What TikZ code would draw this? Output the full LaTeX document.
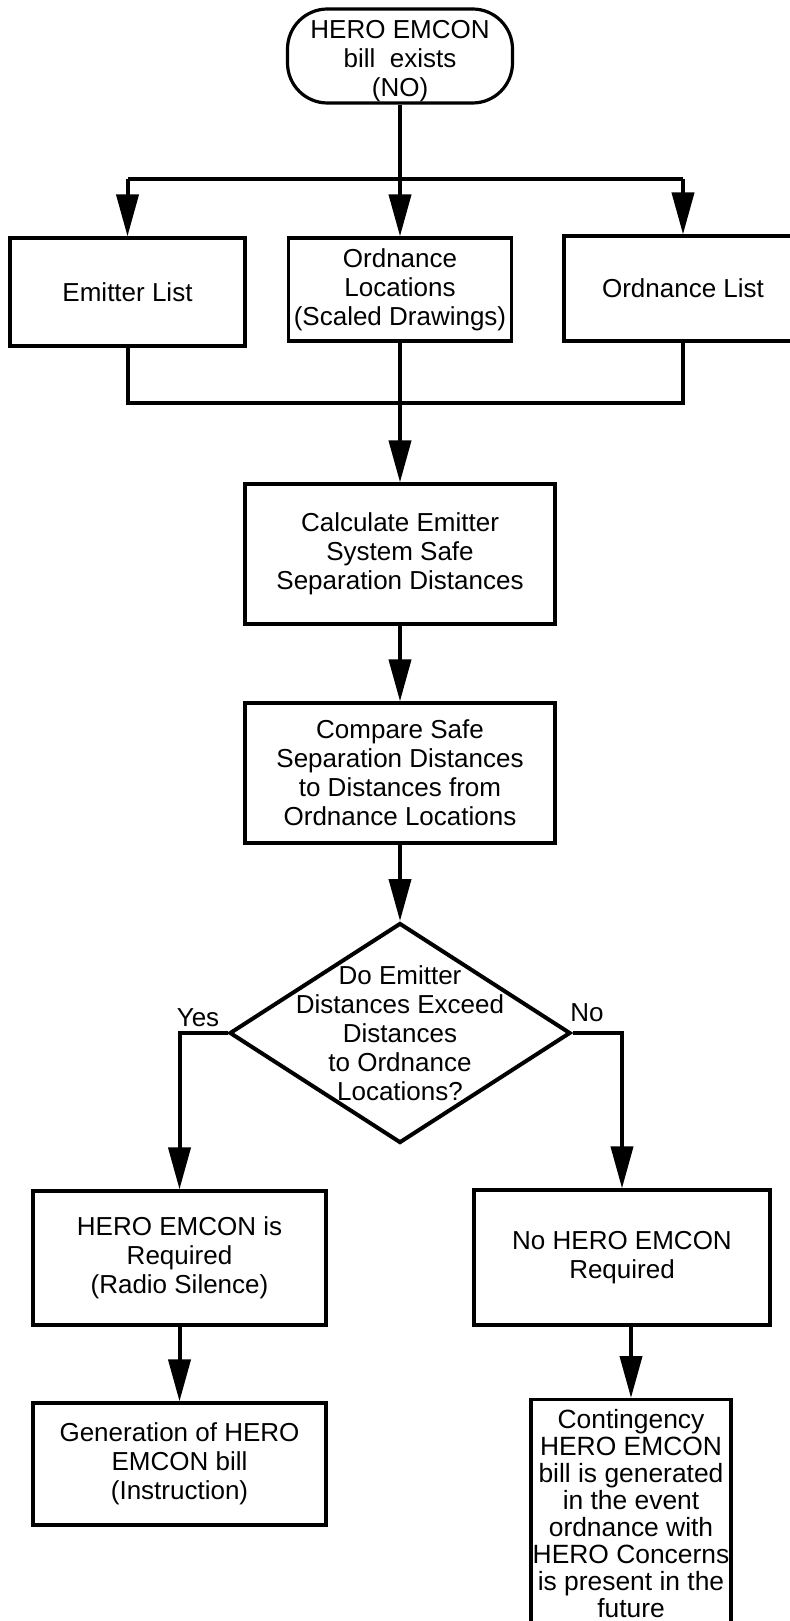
\documentclass[tikz,border=0pt]{standalone}
\usepackage{fontspec}
\setmainfont{Liberation Sans}
\usetikzlibrary{arrows.meta,shapes.geometric}

\begin{document}
\begin{tikzpicture}[x=0.5pt, y=-0.5pt,
    caja/.style={draw, line width=1.6pt, align=center, inner sep=0pt,
        font=\fontsize{13}{14.5}\selectfont},
    inicio/.style={caja, rounded corners=20pt},
    decision/.style={draw, diamond, line width=2pt, inner sep=0pt},
    texto/.style={align=center, inner sep=0pt, font=\fontsize{13}{14.5}\selectfont},
    linea/.style={line width=2pt},
    flecha/.style={linea, -{Triangle[length=21pt, width=11pt]}}]

    \useasboundingbox (0,0) rectangle (789,1621);

    %inicio
    \node[inicio, minimum width=112.5pt, minimum height=47pt] (start) at (400,56)
    {\rule{0pt}{14pt}HERO EMCON\\bill\ \ exists\\(NO)};

    %cajas superiores
    \node[caja, minimum width=117.5pt, minimum height=54pt] (emit) at (127.5,292) {Emitter List};
    \node[caja, minimum width=111.5pt, minimum height=51.5pt] (ordloc) at (400,289.5)
    {Ordnance\\Locations\\(Scaled Drawings)};
    \node[caja, minimum width=119pt, minimum height=52.5pt] (ordlist) at (683,288.5) {Ordnance List};

    \node[caja, minimum width=155pt, minimum height=70pt] (calc) at (400,554)
    {Calculate Emitter\\System Safe\\Separation Distances};
    \node[caja, minimum width=155pt, minimum height=70pt] (comp) at (400,773)
    {Compare Safe\\Separation Distances\\to Distances from\\Ordnance Locations};

    %rombo
    \node[decision, minimum width=170.5pt, minimum height=110pt] (dec) at (400,1033) {};
    \node[texto] (dectext) at (dec) {Do Emitter\\Distances Exceed\\Distances\\to Ordnance\\Locations?};
    \node[texto, anchor=south] (yes) at (198,1027) {Yes};
    \node[texto, anchor=south] (no) at (587,1022) {No};

    %resultados
    \node[caja, minimum width=146.5pt, minimum height=67pt] (req) at (179.5,1258)
    {HERO EMCON is\\Required\\(Radio Silence)};
    \node[caja, minimum width=148pt, minimum height=67.5pt] (noreq) at (622,1257.5)
    {No HERO EMCON\\Required};
    \node[caja, minimum width=146.5pt, minimum height=61pt] (gen) at (179.5,1464)
    {Generation of HERO\\EMCON bill\\(Instruction)};
    \node[caja, anchor=north, minimum width=100pt, minimum height=118pt] (contbox) at (631,1398) {};
    \node[texto, anchor=north, font=\fontsize{13.2}{13.5}\selectfont] (cont) at ([yshift=-5.5pt]contbox.north)
    {Contingency\\HERO EMCON\\bill is generated\\in the event\\ordnance with\\HERO Concerns\\is present in the\\future};

    %flechas
    \coordinate (top) at (400,179);
    \coordinate (join) at (400,403);

    \draw[flecha] (start.south) -- (ordloc.north);
    \draw[linea] (emit.north |- top) -- (ordlist.north |- top);
    \foreach \b in {emit,ordlist}{
    \draw[flecha] (\b.north |- top) -- (\b.north);}

    \draw[linea] (emit.south) -- (emit.south |- join) -| (ordlist.south);
    \draw[flecha] (ordloc.south) -- (calc.north);
    \draw[flecha] (calc.south) -- (comp.north);
    \draw[flecha] (comp.south) -- (dec.north);

    \draw[flecha] (dec.west) -| (req.north); %si
    \draw[flecha] (dec.east) -| (noreq.north); %no

    \draw[flecha] (req.south) -- (gen.north);
    \draw[flecha] (noreq.south -| contbox.north) -- (contbox.north);

\end{tikzpicture}
\end{document}
